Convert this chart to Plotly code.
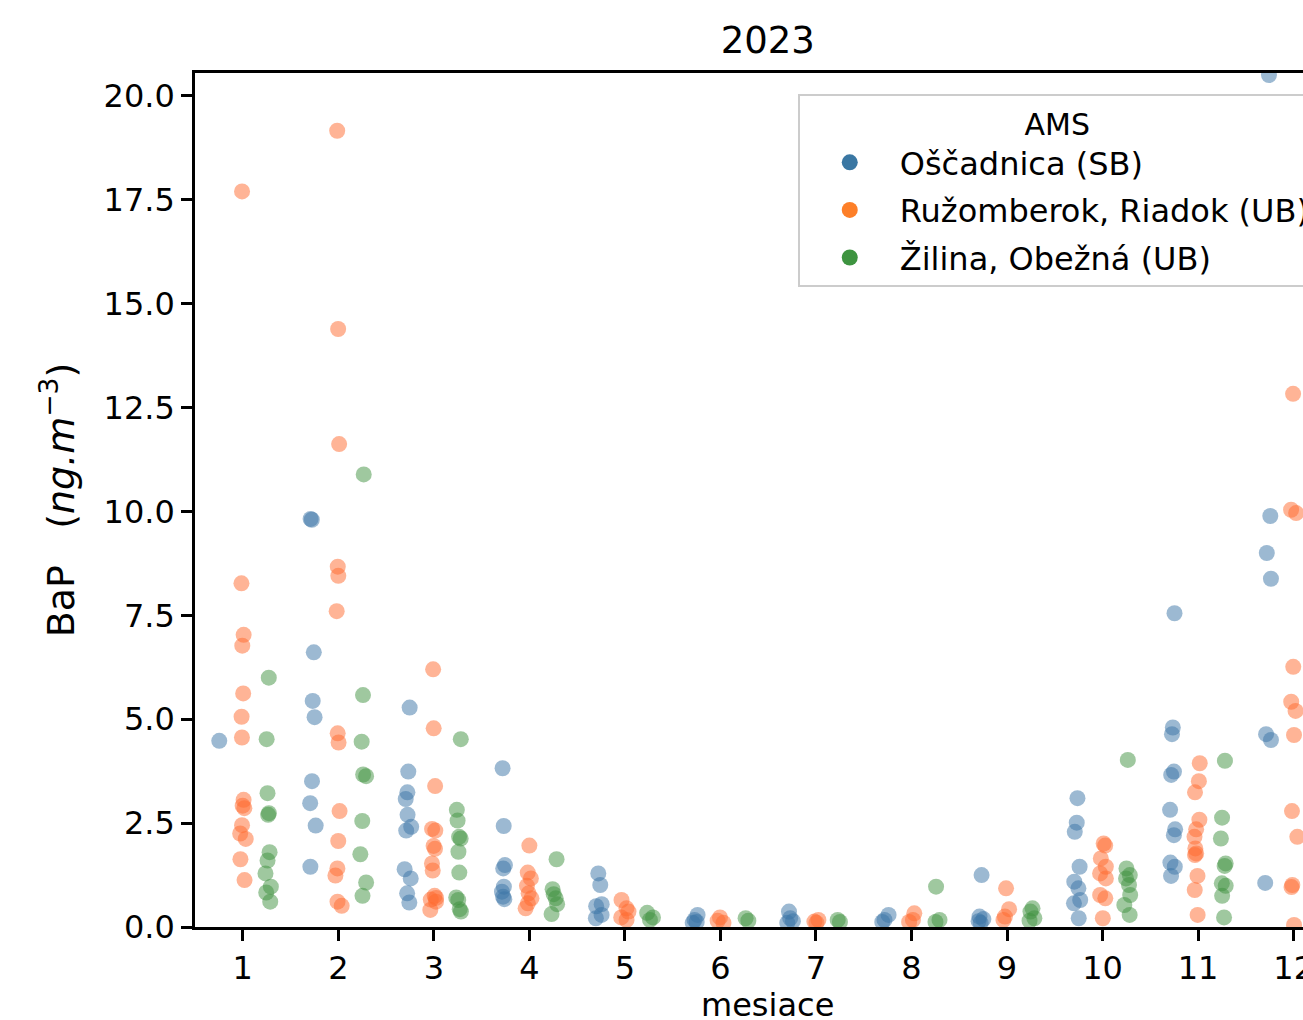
import plotly.graph_objects as go

months = list(range(1, 13))

stations = ["Oščadnica (SB)", "Ružomberok, Riadok (UB)", "Žilina, Obežná (UB)"]

# BaP values per month (index 0 = January)
oscadnica = [
    [4.48],
    [9.82, 9.80, 6.61, 5.44, 5.05, 3.51, 2.98, 2.44, 1.45],
    [5.28, 3.74, 3.24, 3.08, 2.70, 2.41, 2.32, 1.39, 1.17, 0.81, 0.59],
    [3.82, 2.43, 1.49, 1.41, 0.97, 0.85, 0.73, 0.67],
    [1.29, 1.01, 0.55, 0.50, 0.29, 0.21],
    [0.29, 0.17, 0.12, 0.10],
    [0.37, 0.21, 0.14, 0.10],
    [0.29, 0.17, 0.12],
    [1.25, 0.25, 0.19, 0.14, 0.10],
    [3.10, 2.51, 2.29, 1.45, 1.09, 0.93, 0.65, 0.57, 0.21],
    [7.55, 4.80, 4.64, 3.74, 3.66, 2.82, 2.35, 2.21, 1.55, 1.45, 1.23],
    [20.5, 9.89, 9.0, 8.38, 4.64, 4.5, 1.06],
]
ruzomberok = [
    [17.7, 8.27, 7.03, 6.77, 5.62, 5.06, 4.56, 3.06, 2.92, 2.86, 2.45, 2.25, 2.12, 1.63, 1.13],
    [19.16, 14.39, 11.62, 8.67, 8.45, 7.60, 4.66, 4.44, 2.79, 2.07, 1.41, 1.24, 0.61, 0.51],
    [6.20, 4.78, 3.39, 2.36, 2.32, 1.95, 1.88, 1.53, 1.36, 0.75, 0.70, 0.66, 0.61, 0.41],
    [1.96, 1.31, 1.17, 0.99, 0.81, 0.69, 0.57, 0.45],
    [0.65, 0.45, 0.37, 0.23, 0.17],
    [0.23, 0.15, 0.10],
    [0.17, 0.13, 0.10],
    [0.33, 0.17, 0.12],
    [0.93, 0.43, 0.25, 0.17],
    [2.01, 1.96, 1.65, 1.45, 1.29, 1.17, 0.77, 0.69, 0.21],
    [3.94, 3.51, 3.24, 2.58, 2.35, 2.17, 1.89, 1.77, 1.73, 1.23, 0.89, 0.29],
    [12.83, 10.04, 9.96, 6.26, 5.42, 5.20, 4.62, 2.79, 2.17, 1.01, 0.96, 0.05],
]
zilina = [
    [6.0, 4.52, 3.22, 2.74, 2.70, 1.80, 1.60, 1.29, 0.97, 0.83, 0.61],
    [10.89, 5.58, 4.46, 3.67, 3.63, 2.55, 1.75, 1.07, 0.75],
    [4.52, 2.82, 2.56, 2.17, 2.13, 1.81, 1.31, 0.71, 0.65, 0.43, 0.37],
    [1.63, 0.91, 0.79, 0.69, 0.55, 0.31],
    [0.34, 0.23, 0.17],
    [0.21, 0.15],
    [0.17, 0.12],
    [0.97, 0.17, 0.12],
    [0.45, 0.37, 0.21, 0.15],
    [4.02, 1.41, 1.25, 1.17, 1.01, 0.77, 0.53, 0.29],
    [4.00, 2.63, 2.13, 1.53, 1.47, 1.05, 0.99, 0.75, 0.23],
    [],
]

point_colors = ["#3a73a6", "#ff6a2d", "#3f923f"]
legend_colors = ["#3a77a3", "#fd7f28", "#3e9440"]

font = "DejaVu Sans, Liberation Sans, sans-serif"

fig = go.Figure()
for name, data, col, lcol in zip(stations, [oscadnica, ruzomberok, zilina], point_colors, legend_colors):
    xs, ys = [], []
    for m, vals in zip(months, data):
        xs += [m] * len(vals)
        ys += vals
    fig.add_trace(go.Box(
        x=xs, y=ys, name=name, boxpoints="all", jitter=0.3, pointpos=0,
        fillcolor="rgba(0,0,0,0)", line=dict(color="rgba(0,0,0,0)", width=0),
        marker=dict(color=col, size=16, opacity=0.5, line=dict(width=0)),
        hoveron="points", showlegend=False, legendgroup=name,
    ))
    fig.add_trace(go.Scatter(
        x=[None], y=[None], mode="markers", name=name, legendgroup=name,
        marker=dict(color=lcol, size=22),
    ))

fig.update_layout(
    width=1303, height=1020,
    margin=dict(l=195, r=0, t=73, b=93, autoexpand=False),
    paper_bgcolor="white", plot_bgcolor="white",
    font=dict(family=font, size=32, color="black"),
    boxmode="group", boxgap=0.2, boxgroupgap=0,
    title=dict(text="2023", x=0.517, xref="paper", xanchor="center",
               y=1 - 40 / 1020, yref="container", yanchor="middle",
               font=dict(size=37)),
    legend=dict(
        title=dict(text="AMS", side="top center", font=dict(size=30)),
        x=0.544, xanchor="left", y=(927 - 94) / 854, yanchor="top",
        bgcolor="rgba(255,255,255,0.8)", bordercolor="#cccccc", borderwidth=2,
        traceorder="grouped", tracegroupgap=3, itemwidth=90,
    ),
    annotations=[dict(text="mesiace", x=0.517, xref="paper", y=-(1005 - 927) / 854,
                      yref="paper", xanchor="center", yanchor="middle", showarrow=False,
                      font=dict(size=32))],
)
fig.update_xaxes(
    range=[0.5, 12.098], tickvals=months, ticktext=[str(m) for m in months],
    ticklabeloverflow="allow",
    showline=True, linecolor="black", linewidth=2.5, mirror=True,
    ticks="outside", ticklen=11, tickwidth=2.5, tickcolor="black",
    showgrid=False, zeroline=False,
)
fig.update_yaxes(
    range=[0, 20.55], dtick=2.5, tick0=0, tickformat=".1f",
    showline=True, linecolor="black", linewidth=2.5, mirror=False,
    ticks="outside", ticklen=11, tickwidth=2.5, tickcolor="black",
    showgrid=False, zeroline=False,
    title=dict(text="BaP   (<i>ng.m</i><sup>−3</sup>)", standoff=18),
)

# the page margin would push the figure past the window edge
fig.write_html("out.html", config={"displayModeBar": False},
               post_script="document.body.style.margin='0';document.body.style.overflow='hidden';")
